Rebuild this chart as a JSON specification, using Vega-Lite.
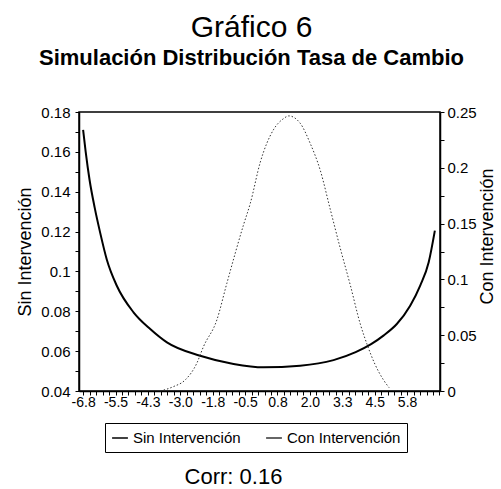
{
  "$schema": "https://vega.github.io/schema/vega-lite/v6.json",
  "width": 361,
  "height": 279,
  "autosize": {"type": "none"},
  "padding": {"left": 79, "top": 112, "right": 61, "bottom": 98},
  "background": "white",
  "config": {"font": "Liberation Sans", "view": {"stroke": "black", "strokeWidth": 1.5}, "axis": {"labelOverlap": false}},
  "title": {
    "text": "Gráfico 6",
    "subtitle": "Simulación Distribución Tasa de Cambio",
    "fontSize": 30,
    "fontWeight": "normal",
    "color": "black",
    "subtitleFontSize": 22,
    "subtitleFontWeight": "bold",
    "subtitleColor": "black",
    "anchor": "middle",
    "offset": 36,
    "subtitlePadding": 5,
    "dx": -8
  },
  "datasets": {
    "sin": [
      {"serie": "Sin Intervención", "x": -6.80, "y": 0.171},
      {"serie": "Sin Intervención", "x": -6.70, "y": 0.160},
      {"serie": "Sin Intervención", "x": -6.55, "y": 0.146},
      {"serie": "Sin Intervención", "x": -6.35, "y": 0.132},
      {"serie": "Sin Intervención", "x": -6.14, "y": 0.1196},
      {"serie": "Sin Intervención", "x": -5.88, "y": 0.106},
      {"serie": "Sin Intervención", "x": -5.49, "y": 0.0928},
      {"serie": "Sin Intervención", "x": -4.84, "y": 0.0795},
      {"serie": "Sin Intervención", "x": -4.19, "y": 0.0711},
      {"serie": "Sin Intervención", "x": -3.54, "y": 0.0644},
      {"serie": "Sin Intervención", "x": -2.25, "y": 0.0577},
      {"serie": "Sin Intervención", "x": -0.95, "y": 0.0536},
      {"serie": "Sin Intervención", "x": 0.22, "y": 0.0519},
      {"serie": "Sin Intervención", "x": 1.64, "y": 0.0527},
      {"serie": "Sin Intervención", "x": 2.94, "y": 0.0555},
      {"serie": "Sin Intervención", "x": 3.80, "y": 0.0595},
      {"serie": "Sin Intervención", "x": 4.40, "y": 0.0635},
      {"serie": "Sin Intervención", "x": 4.88, "y": 0.0678},
      {"serie": "Sin Intervención", "x": 5.40, "y": 0.0736},
      {"serie": "Sin Intervención", "x": 5.92, "y": 0.0828},
      {"serie": "Sin Intervención", "x": 6.31, "y": 0.0929},
      {"serie": "Sin Intervención", "x": 6.64, "y": 0.1046},
      {"serie": "Sin Intervención", "x": 6.88, "y": 0.1205}
    ],
    "con": [
      {"serie": "Con Intervención", "x": -3.80, "y": 0.0},
      {"serie": "Con Intervención", "x": -3.29, "y": 0.0039},
      {"serie": "Con Intervención", "x": -2.83, "y": 0.0099},
      {"serie": "Con Intervención", "x": -2.38, "y": 0.0248},
      {"serie": "Con Intervención", "x": -2.12, "y": 0.0397},
      {"serie": "Con Intervención", "x": -1.60, "y": 0.0636},
      {"serie": "Con Intervención", "x": -1.21, "y": 0.0965},
      {"serie": "Con Intervención", "x": -0.56, "y": 0.149},
      {"serie": "Con Intervención", "x": -0.30, "y": 0.168},
      {"serie": "Con Intervención", "x": 0.09, "y": 0.205},
      {"serie": "Con Intervención", "x": 0.60, "y": 0.234},
      {"serie": "Con Intervención", "x": 0.99, "y": 0.244},
      {"serie": "Con Intervención", "x": 1.20, "y": 0.2465},
      {"serie": "Con Intervención", "x": 1.64, "y": 0.240},
      {"serie": "Con Intervención", "x": 2.03, "y": 0.222},
      {"serie": "Con Intervención", "x": 2.42, "y": 0.198},
      {"serie": "Con Intervención", "x": 2.81, "y": 0.163},
      {"serie": "Con Intervención", "x": 3.20, "y": 0.128},
      {"serie": "Con Intervención", "x": 3.59, "y": 0.095},
      {"serie": "Con Intervención", "x": 3.98, "y": 0.060},
      {"serie": "Con Intervención", "x": 4.24, "y": 0.042},
      {"serie": "Con Intervención", "x": 4.55, "y": 0.024},
      {"serie": "Con Intervención", "x": 4.88, "y": 0.010},
      {"serie": "Con Intervención", "x": 5.10, "y": 0.003}
    ]
  },
  "encoding": {
    "x": {
      "field": "x",
      "type": "quantitative",
      "scale": {"domain": [-6.96, 7.08], "nice": false, "zero": false},
      "axis": {
        "values": [-6.8, -6.548, -6.296, -6.044, -5.792, -5.54, -5.288, -5.036, -4.784, -4.532, -4.28, -4.028, -3.776, -3.524, -3.272, -3.02, -2.768, -2.516, -2.264, -2.012, -1.76, -1.508, -1.256, -1.004, -0.752, -0.5, -0.248, 0.004, 0.256, 0.508, 0.76, 1.012, 1.264, 1.516, 1.768, 2.02, 2.272, 2.524, 2.776, 3.028, 3.28, 3.532, 3.784, 4.036, 4.288, 4.54, 4.792, 5.044, 5.296, 5.548, 5.8, 6.052, 6.304, 6.556, 6.808, 7.06],
        "labelExpr": "(datum.value < 6.5 && round((datum.value + 6.8) / 0.252) % 5 == 0) ? replace(format(datum.value, '.1f'), '−', '-') : ''",
        "title": "Corr: 0.16",
        "titleFontSize": 22,
        "titleFontWeight": "normal",
        "titleColor": "black",
        "titleX": 154,
        "titleY": 92,
        "titleAlign": "center",
        "titleBaseline": "alphabetic",
        "labelFontSize": 14,
        "labelColor": "black",
        "labelPadding": 0,
        "labelOverlap": false,
        "labelFlush": false,
        "labelBound": false,
        "tickSize": 4,
        "tickColor": "black",
        "domainColor": "black",
        "domainWidth": 1.5,
        "grid": false
      }
    },
    "color": {
      "field": "serie",
      "type": "nominal",
      "scale": {"domain": ["Sin Intervención", "Con Intervención"], "range": ["black", "#333333"]},
      "legend": {
        "orient": "none",
        "legendX": 26,
        "legendY": 311,
        "direction": "horizontal",
        "title": null,
        "strokeColor": "black",
        "padding": 6,
        "labelFontSize": 15,
        "labelColor": "black",
        "symbolType": "stroke",
        "symbolSize": 250,
        "symbolStrokeWidth": 1.5,
        "columnPadding": 22
      }
    }
  },
  "layer": [
    {
      "data": {"name": "sin"},
      "mark": {"type": "line", "strokeWidth": 2, "interpolate": "monotone"},
      "encoding": {
        "y": {
          "field": "y",
          "type": "quantitative",
          "scale": {"domain": [0.04, 0.18], "nice": false, "zero": false},
          "axis": {
            "orient": "left",
            "values": [0.04, 0.05, 0.06, 0.07, 0.08, 0.09, 0.1, 0.11, 0.12, 0.13, 0.14, 0.15, 0.16, 0.17, 0.18],
            "labelExpr": "round(datum.value * 100) % 2 == 0 ? format(datum.value, '.2~f') : ''",
            "title": "Sin Intervención",
            "titleFontSize": 18,
            "titleFontWeight": "normal",
            "titleColor": "black",
            "titlePadding": 6,
            "labelFontSize": 15,
            "labelColor": "black",
            "labelPadding": 5,
            "labelOverlap": false,
            "labelFlush": false,
            "tickSize": 4,
            "tickColor": "black",
            "domainColor": "black",
            "domainWidth": 1.5,
            "grid": false
          }
        }
      }
    },
    {
      "data": {"name": "con"},
      "mark": {"type": "line", "strokeWidth": 1, "strokeDash": [1.5, 2], "interpolate": "monotone"},
      "encoding": {
        "y": {
          "field": "y",
          "type": "quantitative",
          "scale": {"domain": [0, 0.25], "nice": false, "zero": false},
          "axis": {
            "orient": "right",
            "values": [0, 0.025, 0.05, 0.075, 0.1, 0.125, 0.15, 0.175, 0.2, 0.225, 0.25],
            "labelExpr": "round(datum.value * 1000) % 50 == 0 ? format(datum.value, '.2~f') : ''",
            "title": "Con Intervención",
            "titleAngle": 270,
            "titleX": 47,
            "titleY": 124,
            "titleAlign": "center",
            "titleBaseline": "middle",
            "titleFontSize": 18,
            "titleFontWeight": "normal",
            "titleColor": "black",
            "labelFontSize": 15,
            "labelColor": "black",
            "labelPadding": 3,
            "labelOverlap": false,
            "labelFlush": false,
            "tickSize": 4,
            "tickColor": "black",
            "domainColor": "black",
            "domainWidth": 1.5,
            "grid": false
          }
        }
      }
    }
  ],
  "resolve": {"scale": {"y": "independent"}}
}
